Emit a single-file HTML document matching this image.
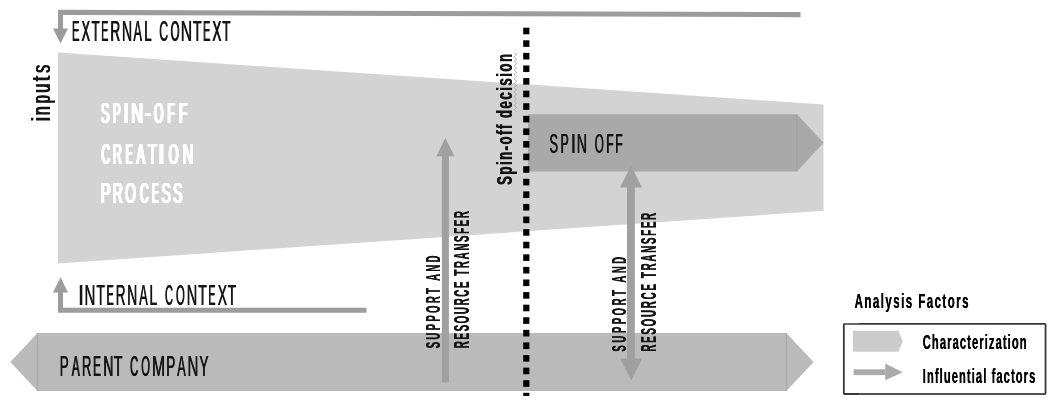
<!DOCTYPE html>
<html><head><meta charset="utf-8">
<style>
html,body{margin:0;padding:0;background:#fff;}
body{width:1057px;height:404px;overflow:hidden;}
svg{display:block;will-change:transform;}
text{font-family:"Liberation Sans",sans-serif;}
</style></head>
<body>
<svg width="1057" height="404" viewBox="0 0 1057 404">
<polygon points="58,52.5 823.5,104.5 823.5,210.8 58,263.5" fill="#d3d3d3"/>
<polygon points="58,9.8 800.5,12 800.5,17.2 63,15 63,30 58,30" fill="#9c9c9c"/>
<polygon points="53,28.5 68,28.5 60.5,43.5" fill="#9c9c9c"/>
<polygon points="58,292 63,292 63,307.7 366.5,307.7 366.5,312.8 58,312.8" fill="#9c9c9c"/>
<polygon points="53,292.5 68,292.5 60.5,277.3" fill="#9c9c9c"/>
<polygon points="10.4,362 37.4,332.9 786.4,332.9 813.6,362 786.4,391 37.4,391" fill="#bababa"/>
<polygon points="528,114.2 797,114.2 823.5,142.85 797,171.6 528,171.6" fill="#a9a9a9"/>
<g stroke="#9a9a9a" stroke-width="1" opacity="0.6"><line x1="796.7" y1="114.2" x2="796.7" y2="171.6"/><line x1="37.4" y1="332.9" x2="37.4" y2="391"/><line x1="786.4" y1="332.9" x2="786.4" y2="391"/></g>
<rect x="441.9" y="155" width="7" height="227.3" fill="#a0a0a0"/>
<polygon points="436.3,156.2 454.5,156.2 445.4,138" fill="#a0a0a0"/>
<rect x="627" y="186" width="7.8" height="174" fill="#a0a0a0"/>
<polygon points="620,187.4 642,187.4 631,165.4" fill="#a0a0a0"/>
<polygon points="620.2,358.6 642.2,358.6 631.2,380.4" fill="#a0a0a0"/>
<g fill="#000"><rect x="523.2" y="27.70" width="6.2" height="6.60"/><rect x="523.2" y="40.29" width="6.2" height="6.60"/><rect x="523.2" y="52.88" width="6.2" height="6.60"/><rect x="523.2" y="65.47" width="6.2" height="6.60"/><rect x="523.2" y="78.06" width="6.2" height="6.60"/><rect x="523.2" y="90.65" width="6.2" height="6.60"/><rect x="523.2" y="103.24" width="6.2" height="6.60"/><rect x="523.2" y="115.83" width="6.2" height="6.60"/><rect x="523.2" y="128.42" width="6.2" height="6.60"/><rect x="523.2" y="141.01" width="6.2" height="6.60"/><rect x="523.2" y="153.60" width="6.2" height="6.60"/><rect x="523.2" y="166.19" width="6.2" height="6.60"/><rect x="523.2" y="178.78" width="6.2" height="6.60"/><rect x="523.2" y="191.37" width="6.2" height="6.60"/><rect x="523.2" y="203.96" width="6.2" height="6.60"/><rect x="523.2" y="216.55" width="6.2" height="6.60"/><rect x="523.2" y="229.14" width="6.2" height="6.60"/><rect x="523.2" y="241.73" width="6.2" height="6.60"/><rect x="523.2" y="254.32" width="6.2" height="6.60"/><rect x="523.2" y="266.91" width="6.2" height="6.60"/><rect x="523.2" y="279.50" width="6.2" height="6.60"/><rect x="523.2" y="292.09" width="6.2" height="6.60"/><rect x="523.2" y="304.68" width="6.2" height="6.60"/><rect x="523.2" y="317.27" width="6.2" height="6.60"/><rect x="523.2" y="329.86" width="6.2" height="6.60"/><rect x="523.2" y="342.45" width="6.2" height="6.60"/><rect x="523.2" y="355.04" width="6.2" height="6.60"/><rect x="523.2" y="367.63" width="6.2" height="6.60"/><rect x="523.2" y="380.22" width="6.2" height="6.60"/><rect x="523.2" y="392.81" width="6.2" height="3.09"/></g>
<polyline points="514.1,52.5 516.7,54.7 514.1,56.9 516.7,59.1 514.1,61.3 516.7,63.5 514.1,65.7 516.7,67.9 514.1,70.1 516.7,72.3 514.1,74.5 516.7,76.7 514.1,78.9 516.7,81.1 514.1,83.3 516.7,85.5 514.1,87.7 516.7,89.9 514.1,92.1 516.7,94.3 514.1,96.5 516.7,98.7 514.1,100.9 516.7,103.1 514.1,105.3 516.7,107.5 514.1,109.7 516.7,111.9" fill="none" stroke="#aaaaaa" stroke-width="0.9"/>
<g transform="translate(71.68,41.3)" font-size="29" fill="#141414"><text transform="translate(0.00,0.00) scale(0.3881,1)">E</text><text transform="translate(0.60,0.00) scale(0.3881,1)">E</text></g><g transform="translate(81.32,41.3)" font-size="29" fill="#141414"><text transform="translate(0.00,0.00) scale(0.4314,1)">X</text><text transform="translate(0.60,0.00) scale(0.4314,1)">X</text></g><g transform="translate(91.31,41.3)" font-size="29" fill="#141414"><text transform="translate(0.00,0.00) scale(0.4513,1)">T</text><text transform="translate(0.60,0.00) scale(0.4513,1)">T</text></g><g transform="translate(101.02,41.3)" font-size="29" fill="#141414"><text transform="translate(0.00,0.00) scale(0.3690,1)">E</text><text transform="translate(0.60,0.00) scale(0.3690,1)">E</text></g><g transform="translate(110.08,41.3)" font-size="29" fill="#141414"><text transform="translate(0.00,0.00) scale(0.4704,1)">R</text><text transform="translate(0.60,0.00) scale(0.4704,1)">R</text></g><g transform="translate(121.75,41.3)" font-size="29" fill="#141414"><text transform="translate(0.00,0.00) scale(0.4815,1)">N</text><text transform="translate(0.60,0.00) scale(0.4815,1)">N</text></g><g transform="translate(133.18,41.3)" font-size="29" fill="#141414"><text transform="translate(0.00,0.00) scale(0.4368,1)">A</text><text transform="translate(0.60,0.00) scale(0.4368,1)">A</text></g><g transform="translate(144.00,41.3)" font-size="29" fill="#141414"><text transform="translate(0.00,0.00) scale(0.4614,1)">L</text><text transform="translate(0.60,0.00) scale(0.4614,1)">L</text></g><g transform="translate(158.97,41.3)" font-size="29" fill="#141414"><text transform="translate(0.00,0.00) scale(0.4247,1)">C</text><text transform="translate(0.60,0.00) scale(0.4247,1)">C</text></g><g transform="translate(170.36,41.3)" font-size="29" fill="#141414"><text transform="translate(0.00,0.00) scale(0.3940,1)">O</text><text transform="translate(0.60,0.00) scale(0.3940,1)">O</text></g><g transform="translate(180.51,41.3)" font-size="29" fill="#141414"><text transform="translate(0.00,0.00) scale(0.5432,1)">N</text><text transform="translate(0.60,0.00) scale(0.5432,1)">N</text></g><g transform="translate(192.79,41.3)" font-size="29" fill="#141414"><text transform="translate(0.00,0.00) scale(0.4757,1)">T</text><text transform="translate(0.60,0.00) scale(0.4757,1)">T</text></g><g transform="translate(202.82,41.3)" font-size="29" fill="#141414"><text transform="translate(0.00,0.00) scale(0.3690,1)">E</text><text transform="translate(0.60,0.00) scale(0.3690,1)">E</text></g><g transform="translate(212.10,41.3)" font-size="29" fill="#141414"><text transform="translate(0.00,0.00) scale(0.4645,1)">X</text><text transform="translate(0.60,0.00) scale(0.4645,1)">X</text></g><g transform="translate(222.11,41.3)" font-size="29" fill="#141414"><text transform="translate(0.00,0.00) scale(0.4513,1)">T</text><text transform="translate(0.60,0.00) scale(0.4513,1)">T</text></g>
<g transform="translate(78.12,305.3)" font-size="29" fill="#141414"><text transform="translate(0.00,0.00) scale(0.6655,1)">I</text><text transform="translate(0.60,0.00) scale(0.6655,1)">I</text></g><g transform="translate(84.17,305.3)" font-size="29" fill="#141414"><text transform="translate(0.00,0.00) scale(0.5185,1)">N</text><text transform="translate(0.60,0.00) scale(0.5185,1)">N</text></g><g transform="translate(96.19,305.3)" font-size="29" fill="#141414"><text transform="translate(0.00,0.00) scale(0.4696,1)">T</text><text transform="translate(0.60,0.00) scale(0.4696,1)">T</text></g><g transform="translate(106.34,305.3)" font-size="29" fill="#141414"><text transform="translate(0.00,0.00) scale(0.3626,1)">E</text><text transform="translate(0.60,0.00) scale(0.3626,1)">E</text></g><g transform="translate(115.49,305.3)" font-size="29" fill="#141414"><text transform="translate(0.00,0.00) scale(0.4646,1)">R</text><text transform="translate(0.60,0.00) scale(0.4646,1)">R</text></g><g transform="translate(126.97,305.3)" font-size="29" fill="#141414"><text transform="translate(0.00,0.00) scale(0.4753,1)">N</text><text transform="translate(0.60,0.00) scale(0.4753,1)">N</text></g><g transform="translate(138.88,305.3)" font-size="29" fill="#141414"><text transform="translate(0.00,0.00) scale(0.4368,1)">A</text><text transform="translate(0.60,0.00) scale(0.4368,1)">A</text></g><g transform="translate(149.18,305.3)" font-size="29" fill="#141414"><text transform="translate(0.00,0.00) scale(0.4692,1)">L</text><text transform="translate(0.60,0.00) scale(0.4692,1)">L</text></g><g transform="translate(164.64,305.3)" font-size="29" fill="#141414"><text transform="translate(0.00,0.00) scale(0.3811,1)">C</text><text transform="translate(0.60,0.00) scale(0.3811,1)">C</text></g><g transform="translate(175.77,305.3)" font-size="29" fill="#141414"><text transform="translate(0.00,0.00) scale(0.3890,1)">O</text><text transform="translate(0.60,0.00) scale(0.3890,1)">O</text></g><g transform="translate(186.41,305.3)" font-size="29" fill="#141414"><text transform="translate(0.00,0.00) scale(0.5000,1)">N</text><text transform="translate(0.60,0.00) scale(0.5000,1)">N</text></g><g transform="translate(198.09,305.3)" font-size="29" fill="#141414"><text transform="translate(0.00,0.00) scale(0.4696,1)">T</text><text transform="translate(0.60,0.00) scale(0.4696,1)">T</text></g><g transform="translate(208.25,305.3)" font-size="29" fill="#141414"><text transform="translate(0.00,0.00) scale(0.3563,1)">E</text><text transform="translate(0.60,0.00) scale(0.3563,1)">E</text></g><g transform="translate(217.49,305.3)" font-size="29" fill="#141414"><text transform="translate(0.00,0.00) scale(0.4811,1)">X</text><text transform="translate(0.60,0.00) scale(0.4811,1)">X</text></g><g transform="translate(227.49,305.3)" font-size="29" fill="#141414"><text transform="translate(0.00,0.00) scale(0.4696,1)">T</text><text transform="translate(0.60,0.00) scale(0.4696,1)">T</text></g>
<g transform="translate(59.41,375.7)" font-size="29" fill="#141414"><text transform="translate(0.00,0.00) scale(0.4600,1)">P</text><text transform="translate(0.60,0.00) scale(0.4600,1)">P</text></g><g transform="translate(71.58,375.7)" font-size="29" fill="#141414"><text transform="translate(0.00,0.00) scale(0.4056,1)">A</text><text transform="translate(0.60,0.00) scale(0.4056,1)">A</text></g><g transform="translate(81.64,375.7)" font-size="29" fill="#141414"><text transform="translate(0.00,0.00) scale(0.4472,1)">R</text><text transform="translate(0.60,0.00) scale(0.4472,1)">R</text></g><g transform="translate(92.85,375.7)" font-size="29" fill="#141414"><text transform="translate(0.00,0.00) scale(0.4008,1)">E</text><text transform="translate(0.60,0.00) scale(0.4008,1)">E</text></g><g transform="translate(103.07,375.7)" font-size="29" fill="#141414"><text transform="translate(0.00,0.00) scale(0.4753,1)">N</text><text transform="translate(0.60,0.00) scale(0.4753,1)">N</text></g><g transform="translate(113.48,375.7)" font-size="29" fill="#141414"><text transform="translate(0.00,0.00) scale(0.4940,1)">T</text><text transform="translate(0.60,0.00) scale(0.4940,1)">T</text></g><g transform="translate(129.83,375.7)" font-size="29" fill="#141414"><text transform="translate(0.00,0.00) scale(0.3866,1)">C</text><text transform="translate(0.60,0.00) scale(0.3866,1)">C</text></g><g transform="translate(140.97,375.7)" font-size="29" fill="#141414"><text transform="translate(0.00,0.00) scale(0.3890,1)">O</text><text transform="translate(0.60,0.00) scale(0.3890,1)">O</text></g><g transform="translate(151.71,375.7)" font-size="29" fill="#141414"><text transform="translate(0.00,0.00) scale(0.5413,1)">M</text><text transform="translate(0.60,0.00) scale(0.5413,1)">M</text></g><g transform="translate(165.89,375.7)" font-size="29" fill="#141414"><text transform="translate(0.00,0.00) scale(0.4665,1)">P</text><text transform="translate(0.60,0.00) scale(0.4665,1)">P</text></g><g transform="translate(176.98,375.7)" font-size="29" fill="#141414"><text transform="translate(0.00,0.00) scale(0.4368,1)">A</text><text transform="translate(0.60,0.00) scale(0.4368,1)">A</text></g><g transform="translate(187.17,375.7)" font-size="29" fill="#141414"><text transform="translate(0.00,0.00) scale(0.5185,1)">N</text><text transform="translate(0.60,0.00) scale(0.5185,1)">N</text></g><g transform="translate(199.20,375.7)" font-size="29" fill="#141414"><text transform="translate(0.00,0.00) scale(0.4649,1)">Y</text><text transform="translate(0.60,0.00) scale(0.4649,1)">Y</text></g>
<g transform="translate(549.22,152.7)" font-size="28.4" fill="#141414"><text transform="translate(0.00,0.00) scale(0.4526,1)">S</text><text transform="translate(0.60,0.00) scale(0.4526,1)">S</text></g><g transform="translate(560.31,152.7)" font-size="28.4" fill="#141414"><text transform="translate(0.00,0.00) scale(0.4234,1)">P</text><text transform="translate(0.60,0.00) scale(0.4234,1)">P</text></g><g transform="translate(570.52,152.7)" font-size="28.4" fill="#141414"><text transform="translate(0.00,0.00) scale(0.6796,1)">I</text><text transform="translate(0.60,0.00) scale(0.6796,1)">I</text></g><g transform="translate(576.44,152.7)" font-size="28.4" fill="#141414"><text transform="translate(0.00,0.00) scale(0.4980,1)">N</text><text transform="translate(0.60,0.00) scale(0.4980,1)">N</text></g><g transform="translate(594.44,152.7)" font-size="28.4" fill="#141414"><text transform="translate(0.00,0.00) scale(0.4127,1)">O</text><text transform="translate(0.60,0.00) scale(0.4127,1)">O</text></g><g transform="translate(606.04,152.7)" font-size="28.4" fill="#141414"><text transform="translate(0.00,0.00) scale(0.4106,1)">F</text><text transform="translate(0.60,0.00) scale(0.4106,1)">F</text></g><g transform="translate(614.99,152.7)" font-size="28.4" fill="#141414"><text transform="translate(0.00,0.00) scale(0.4322,1)">F</text><text transform="translate(0.60,0.00) scale(0.4322,1)">F</text></g>
<g transform="translate(100.33,123.1)" font-size="28.7" fill="#fff"><text transform="translate(0.00,-0.00) scale(0.4358,1)">S</text><text transform="translate(0.00,-0.30) scale(0.4358,1)">S</text><text transform="translate(0.75,-0.00) scale(0.4358,1)">S</text><text transform="translate(0.75,-0.30) scale(0.4358,1)">S</text><text transform="translate(1.50,-0.00) scale(0.4358,1)">S</text><text transform="translate(1.50,-0.30) scale(0.4358,1)">S</text></g><g transform="translate(112.19,123.1)" font-size="28.7" fill="#fff"><text transform="translate(0.00,-0.00) scale(0.3863,1)">P</text><text transform="translate(0.00,-0.30) scale(0.3863,1)">P</text><text transform="translate(0.75,-0.00) scale(0.3863,1)">P</text><text transform="translate(0.75,-0.30) scale(0.3863,1)">P</text><text transform="translate(1.50,-0.00) scale(0.3863,1)">P</text><text transform="translate(1.50,-0.30) scale(0.3863,1)">P</text></g><g transform="translate(122.42,123.1)" font-size="28.7" fill="#fff"><text transform="translate(0.00,-0.00) scale(0.7472,1)">I</text><text transform="translate(0.00,-0.30) scale(0.7472,1)">I</text><text transform="translate(0.75,-0.00) scale(0.7472,1)">I</text><text transform="translate(0.75,-0.30) scale(0.7472,1)">I</text><text transform="translate(1.50,-0.00) scale(0.7472,1)">I</text><text transform="translate(1.50,-0.30) scale(0.7472,1)">I</text></g><g transform="translate(130.46,123.1)" font-size="28.7" fill="#fff"><text transform="translate(0.00,-0.00) scale(0.5676,1)">N</text><text transform="translate(0.00,-0.30) scale(0.5676,1)">N</text><text transform="translate(0.75,-0.00) scale(0.5676,1)">N</text><text transform="translate(0.75,-0.30) scale(0.5676,1)">N</text><text transform="translate(1.50,-0.00) scale(0.5676,1)">N</text><text transform="translate(1.50,-0.30) scale(0.5676,1)">N</text></g><g transform="translate(143.94,123.1)" font-size="28.7" fill="#fff"><text transform="translate(0.00,-0.00) scale(0.6708,1)">-</text><text transform="translate(0.00,-0.30) scale(0.6708,1)">-</text><text transform="translate(0.75,-0.00) scale(0.6708,1)">-</text><text transform="translate(0.75,-0.30) scale(0.6708,1)">-</text><text transform="translate(1.50,-0.00) scale(0.6708,1)">-</text><text transform="translate(1.50,-0.30) scale(0.6708,1)">-</text></g><g transform="translate(153.23,123.1)" font-size="28.7" fill="#fff"><text transform="translate(0.00,-0.00) scale(0.4186,1)">O</text><text transform="translate(0.00,-0.30) scale(0.4186,1)">O</text><text transform="translate(0.75,-0.00) scale(0.4186,1)">O</text><text transform="translate(0.75,-0.30) scale(0.4186,1)">O</text><text transform="translate(1.50,-0.00) scale(0.4186,1)">O</text><text transform="translate(1.50,-0.30) scale(0.4186,1)">O</text></g><g transform="translate(166.71,123.1)" font-size="28.7" fill="#fff"><text transform="translate(0.00,-0.00) scale(0.4206,1)">F</text><text transform="translate(0.00,-0.30) scale(0.4206,1)">F</text><text transform="translate(0.75,-0.00) scale(0.4206,1)">F</text><text transform="translate(0.75,-0.30) scale(0.4206,1)">F</text><text transform="translate(1.50,-0.00) scale(0.4206,1)">F</text><text transform="translate(1.50,-0.30) scale(0.4206,1)">F</text></g><g transform="translate(178.16,123.1)" font-size="28.7" fill="#fff"><text transform="translate(0.00,-0.00) scale(0.4848,1)">F</text><text transform="translate(0.00,-0.30) scale(0.4848,1)">F</text><text transform="translate(0.75,-0.00) scale(0.4848,1)">F</text><text transform="translate(0.75,-0.30) scale(0.4848,1)">F</text><text transform="translate(1.50,-0.00) scale(0.4848,1)">F</text><text transform="translate(1.50,-0.30) scale(0.4848,1)">F</text></g>
<g transform="translate(100.70,163.9)" font-size="28.7" fill="#fff"><text transform="translate(0.00,-0.00) scale(0.4126,1)">C</text><text transform="translate(0.00,-0.30) scale(0.4126,1)">C</text><text transform="translate(0.75,-0.00) scale(0.4126,1)">C</text><text transform="translate(0.75,-0.30) scale(0.4126,1)">C</text><text transform="translate(1.50,-0.00) scale(0.4126,1)">C</text><text transform="translate(1.50,-0.30) scale(0.4126,1)">C</text></g><g transform="translate(112.06,163.9)" font-size="28.7" fill="#fff"><text transform="translate(0.00,-0.00) scale(0.4401,1)">R</text><text transform="translate(0.00,-0.30) scale(0.4401,1)">R</text><text transform="translate(0.75,-0.00) scale(0.4401,1)">R</text><text transform="translate(0.75,-0.30) scale(0.4401,1)">R</text><text transform="translate(1.50,-0.00) scale(0.4401,1)">R</text><text transform="translate(1.50,-0.30) scale(0.4401,1)">R</text></g><g transform="translate(125.05,163.9)" font-size="28.7" fill="#fff"><text transform="translate(0.00,-0.00) scale(0.3600,1)">E</text><text transform="translate(0.00,-0.30) scale(0.3600,1)">E</text><text transform="translate(0.75,-0.00) scale(0.3600,1)">E</text><text transform="translate(0.75,-0.30) scale(0.3600,1)">E</text><text transform="translate(1.50,-0.00) scale(0.3600,1)">E</text><text transform="translate(1.50,-0.30) scale(0.3600,1)">E</text></g><g transform="translate(135.77,163.9)" font-size="28.7" fill="#fff"><text transform="translate(0.00,-0.00) scale(0.4466,1)">A</text><text transform="translate(0.00,-0.30) scale(0.4466,1)">A</text><text transform="translate(0.75,-0.00) scale(0.4466,1)">A</text><text transform="translate(0.75,-0.30) scale(0.4466,1)">A</text><text transform="translate(1.50,-0.00) scale(0.4466,1)">A</text><text transform="translate(1.50,-0.30) scale(0.4466,1)">A</text></g><g transform="translate(147.17,163.9)" font-size="28.7" fill="#fff"><text transform="translate(0.00,-0.00) scale(0.5053,1)">T</text><text transform="translate(0.00,-0.30) scale(0.5053,1)">T</text><text transform="translate(0.75,-0.00) scale(0.5053,1)">T</text><text transform="translate(0.75,-0.30) scale(0.5053,1)">T</text><text transform="translate(1.50,-0.00) scale(0.5053,1)">T</text><text transform="translate(1.50,-0.30) scale(0.5053,1)">T</text></g><g transform="translate(157.22,163.9)" font-size="28.7" fill="#fff"><text transform="translate(0.00,-0.00) scale(0.8593,1)">I</text><text transform="translate(0.00,-0.30) scale(0.8593,1)">I</text><text transform="translate(0.75,-0.00) scale(0.8593,1)">I</text><text transform="translate(0.75,-0.30) scale(0.8593,1)">I</text><text transform="translate(1.50,-0.00) scale(0.8593,1)">I</text><text transform="translate(1.50,-0.30) scale(0.8593,1)">I</text></g><g transform="translate(167.91,163.9)" font-size="28.7" fill="#fff"><text transform="translate(0.00,-0.00) scale(0.4339,1)">O</text><text transform="translate(0.00,-0.30) scale(0.4339,1)">O</text><text transform="translate(0.75,-0.00) scale(0.4339,1)">O</text><text transform="translate(0.75,-0.30) scale(0.4339,1)">O</text><text transform="translate(1.50,-0.00) scale(0.4339,1)">O</text><text transform="translate(1.50,-0.30) scale(0.4339,1)">O</text></g><g transform="translate(181.85,163.9)" font-size="28.7" fill="#fff"><text transform="translate(0.00,-0.00) scale(0.5302,1)">N</text><text transform="translate(0.00,-0.30) scale(0.5302,1)">N</text><text transform="translate(0.75,-0.00) scale(0.5302,1)">N</text><text transform="translate(0.75,-0.30) scale(0.5302,1)">N</text><text transform="translate(1.50,-0.00) scale(0.5302,1)">N</text><text transform="translate(1.50,-0.30) scale(0.5302,1)">N</text></g>
<g transform="translate(100.00,203.3)" font-size="28.7" fill="#fff"><text transform="translate(0.00,-0.00) scale(0.5106,1)">P</text><text transform="translate(0.00,-0.30) scale(0.5106,1)">P</text><text transform="translate(0.75,-0.00) scale(0.5106,1)">P</text><text transform="translate(0.75,-0.30) scale(0.5106,1)">P</text><text transform="translate(1.50,-0.00) scale(0.5106,1)">P</text><text transform="translate(1.50,-0.30) scale(0.5106,1)">P</text></g><g transform="translate(111.97,203.3)" font-size="28.7" fill="#fff"><text transform="translate(0.00,-0.00) scale(0.4812,1)">R</text><text transform="translate(0.00,-0.30) scale(0.4812,1)">R</text><text transform="translate(0.75,-0.00) scale(0.4812,1)">R</text><text transform="translate(0.75,-0.30) scale(0.4812,1)">R</text><text transform="translate(1.50,-0.00) scale(0.4812,1)">R</text><text transform="translate(1.50,-0.30) scale(0.4812,1)">R</text></g><g transform="translate(124.34,203.3)" font-size="28.7" fill="#fff"><text transform="translate(0.00,-0.00) scale(0.4849,1)">O</text><text transform="translate(0.00,-0.30) scale(0.4849,1)">O</text><text transform="translate(0.75,-0.00) scale(0.4849,1)">O</text><text transform="translate(0.75,-0.30) scale(0.4849,1)">O</text><text transform="translate(1.50,-0.00) scale(0.4849,1)">O</text><text transform="translate(1.50,-0.30) scale(0.4849,1)">O</text></g><g transform="translate(139.20,203.3)" font-size="28.7" fill="#fff"><text transform="translate(0.00,-0.00) scale(0.4126,1)">C</text><text transform="translate(0.00,-0.30) scale(0.4126,1)">C</text><text transform="translate(0.75,-0.00) scale(0.4126,1)">C</text><text transform="translate(0.75,-0.30) scale(0.4126,1)">C</text><text transform="translate(1.50,-0.00) scale(0.4126,1)">C</text><text transform="translate(1.50,-0.30) scale(0.4126,1)">C</text></g><g transform="translate(151.20,203.3)" font-size="28.7" fill="#fff"><text transform="translate(0.00,-0.00) scale(0.3407,1)">E</text><text transform="translate(0.00,-0.30) scale(0.3407,1)">E</text><text transform="translate(0.75,-0.00) scale(0.3407,1)">E</text><text transform="translate(0.75,-0.30) scale(0.3407,1)">E</text><text transform="translate(1.50,-0.00) scale(0.3407,1)">E</text><text transform="translate(1.50,-0.30) scale(0.3407,1)">E</text></g><g transform="translate(160.76,203.3)" font-size="28.7" fill="#fff"><text transform="translate(0.00,-0.00) scale(0.4903,1)">S</text><text transform="translate(0.00,-0.30) scale(0.4903,1)">S</text><text transform="translate(0.75,-0.00) scale(0.4903,1)">S</text><text transform="translate(0.75,-0.30) scale(0.4903,1)">S</text><text transform="translate(1.50,-0.00) scale(0.4903,1)">S</text><text transform="translate(1.50,-0.30) scale(0.4903,1)">S</text></g><g transform="translate(172.38,203.3)" font-size="28.7" fill="#fff"><text transform="translate(0.00,-0.00) scale(0.4721,1)">S</text><text transform="translate(0.00,-0.30) scale(0.4721,1)">S</text><text transform="translate(0.75,-0.00) scale(0.4721,1)">S</text><text transform="translate(0.75,-0.30) scale(0.4721,1)">S</text><text transform="translate(1.50,-0.00) scale(0.4721,1)">S</text><text transform="translate(1.50,-0.30) scale(0.4721,1)">S</text></g>
<g transform="translate(50.2,121.79) rotate(-90)" font-size="25.5" fill="#141414"><text transform="translate(0.00,0) scale(0.7585,1)">i</text><text transform="translate(0.50,0) scale(0.7585,1)">i</text><text transform="translate(1.00,0) scale(0.7585,1)">i</text></g><g transform="translate(50.2,115.68) rotate(-90)" font-size="25.5" fill="#141414"><text transform="translate(0.00,0) scale(0.6370,1)">n</text><text transform="translate(0.50,0) scale(0.6370,1)">n</text><text transform="translate(1.00,0) scale(0.6370,1)">n</text></g><g transform="translate(50.2,103.63) rotate(-90)" font-size="25.5" fill="#141414"><text transform="translate(0.00,0) scale(0.5668,1)">p</text><text transform="translate(0.50,0) scale(0.5668,1)">p</text><text transform="translate(1.00,0) scale(0.5668,1)">p</text></g><g transform="translate(50.2,93.15) rotate(-90)" font-size="25.5" fill="#141414"><text transform="translate(0.00,0) scale(0.6370,1)">u</text><text transform="translate(0.50,0) scale(0.6370,1)">u</text><text transform="translate(1.00,0) scale(0.6370,1)">u</text></g><g transform="translate(50.2,81.70) rotate(-90)" font-size="25.5" fill="#141414"><text transform="translate(0.00,0) scale(0.7678,1)">t</text><text transform="translate(0.50,0) scale(0.7678,1)">t</text><text transform="translate(1.00,0) scale(0.7678,1)">t</text></g><g transform="translate(50.2,73.14) rotate(-90)" font-size="25.5" fill="#141414"><text transform="translate(0.00,0) scale(0.6206,1)">s</text><text transform="translate(0.50,0) scale(0.6206,1)">s</text><text transform="translate(1.00,0) scale(0.6206,1)">s</text></g>
<g transform="translate(512,185.2) rotate(-90)" font-size="22" font-weight="bold" fill="#141414"><text transform="translate(0.00,0) scale(0.6,1)" textLength="218.17" lengthAdjust="spacing">Spin-off decision</text><text transform="translate(0.60,0) scale(0.6,1)" textLength="218.17" lengthAdjust="spacing">Spin-off decision</text></g>
<g transform="translate(440.3,348.4) rotate(-90)" font-size="20.8" font-weight="bold" fill="#141414"><text transform="translate(0.00,0) scale(0.46,1)" textLength="201.52" lengthAdjust="spacing">SUPPORT AND</text><text transform="translate(0.30,0) scale(0.46,1)" textLength="201.52" lengthAdjust="spacing">SUPPORT AND</text></g>
<g transform="translate(468.5,348.4) rotate(-90)" font-size="21.5" font-weight="bold" fill="#141414"><text transform="translate(0.00,0) scale(0.46,1)" textLength="298.26" lengthAdjust="spacing">RESOURCE TRANSFER</text><text transform="translate(0.30,0) scale(0.46,1)" textLength="298.26" lengthAdjust="spacing">RESOURCE TRANSFER</text></g>
<g transform="translate(625.7,351.7) rotate(-90)" font-size="20.8" font-weight="bold" fill="#141414"><text transform="translate(0.00,0) scale(0.46,1)" textLength="205.87" lengthAdjust="spacing">SUPPORT AND</text><text transform="translate(0.30,0) scale(0.46,1)" textLength="205.87" lengthAdjust="spacing">SUPPORT AND</text></g>
<g transform="translate(655.5,351.7) rotate(-90)" font-size="21.5" font-weight="bold" fill="#141414"><text transform="translate(0.00,0) scale(0.46,1)" textLength="301.52" lengthAdjust="spacing">RESOURCE TRANSFER</text><text transform="translate(0.30,0) scale(0.46,1)" textLength="301.52" lengthAdjust="spacing">RESOURCE TRANSFER</text></g>
<g transform="translate(854.6,308.1)" font-size="20.5" font-weight="bold" fill="#000"><text transform="translate(0.00,0) scale(0.56,1)" textLength="203.30" lengthAdjust="spacing">Analysis Factors</text><text transform="translate(0.15,0) scale(0.56,1)" textLength="203.30" lengthAdjust="spacing">Analysis Factors</text></g>
<rect x="843.85" y="323.9" width="201.7" height="70.1" rx="0.8" fill="none" stroke="#383838" stroke-width="1.8"/><rect x="844.8" y="323" width="14" height="1.9" fill="#6a6a6a"/><rect x="859" y="393" width="185.5" height="1.8" fill="#555"/>
<polygon points="853,330.8 898.5,330.8 902.7,341.3 898.5,351.8 853,351.8" fill="#cbcbcb"/>
<rect x="853.7" y="369.3" width="32" height="5.8" fill="#aaa"/>
<polygon points="885.3,363.4 902.7,372.2 885.3,380.3" fill="#aaa"/>
<g transform="translate(922.7,348.8)" font-size="20" font-weight="bold" fill="#000"><text transform="translate(0.00,0) scale(0.56,1)" textLength="185.45" lengthAdjust="spacing">Characterization</text><text transform="translate(0.15,0) scale(0.56,1)" textLength="185.45" lengthAdjust="spacing">Characterization</text></g>
<g transform="translate(922.7,382.6)" font-size="20" font-weight="bold" fill="#000"><text transform="translate(0.00,0) scale(0.56,1)" textLength="200.98" lengthAdjust="spacing">Influential factors</text><text transform="translate(0.15,0) scale(0.56,1)" textLength="200.98" lengthAdjust="spacing">Influential factors</text></g>
</svg>
</body></html>
